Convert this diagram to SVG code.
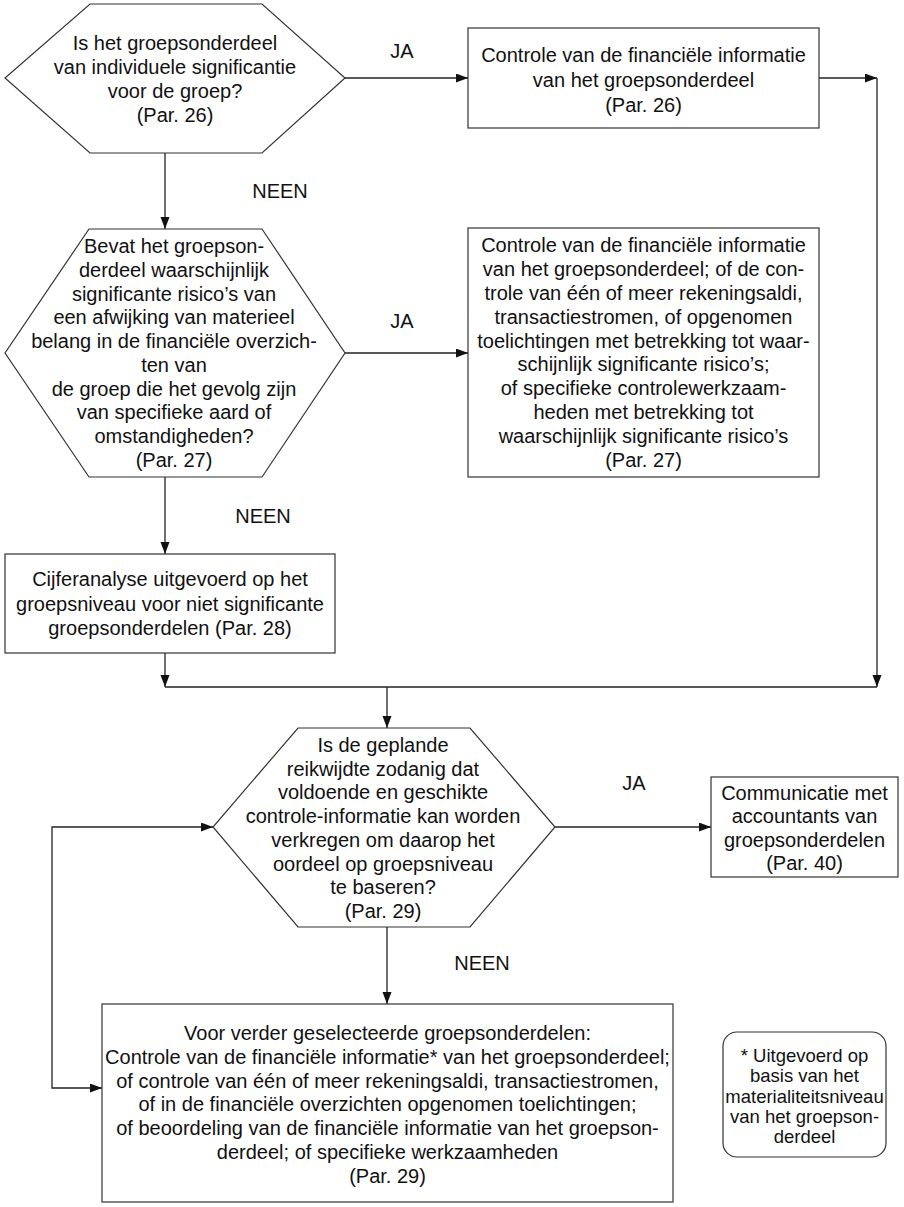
<svg xmlns="http://www.w3.org/2000/svg" width="904" height="1207" viewBox="0 0 904 1207">
<defs>
<style>
text{font-family:"Liberation Sans",Arial,sans-serif;font-size:20px;fill:#111;text-anchor:middle}
.shape{fill:#fff;stroke:#333;stroke-width:1.2}
.conn{fill:none;stroke:#222;stroke-width:1.3}
.note text{font-size:18.5px}
</style>
<marker id="ah" markerUnits="userSpaceOnUse" markerWidth="13" markerHeight="10" refX="12" refY="4.5" orient="auto-start-reverse">
<path d="M0,0 L12,4.5 L0,9 Z" fill="#111"/>
</marker>
</defs>
<rect width="904" height="1207" fill="#fff"/>

<g id="connectors">
<path class="conn" d="M345,78 H468" marker-end="url(#ah)"/>
<path class="conn" d="M819,78 H877" marker-end="url(#ah)"/>
<path class="conn" d="M877,78 V687" marker-end="url(#ah)"/>
<path class="conn" d="M165,153 V229" marker-end="url(#ah)"/>
<path class="conn" d="M345,353 H468" marker-end="url(#ah)"/>
<path class="conn" d="M165,477 V554" marker-end="url(#ah)"/>
<path class="conn" d="M165,653 V687" marker-end="url(#ah)"/>
<path class="conn" d="M165,687 H877"/>
<path class="conn" d="M387,687 V728" marker-end="url(#ah)"/>
<path class="conn" d="M555,827 H711" marker-end="url(#ah)"/>
<path class="conn" d="M387,927 V1004" marker-end="url(#ah)"/>
<path class="conn" d="M213,827 H52 V1088 H102" marker-start="url(#ah)" marker-end="url(#ah)"/>
<text x="402" y="58">JA</text>
<text x="280" y="198">NEEN</text>
<text x="402" y="328">JA</text>
<text x="263" y="523">NEEN</text>
<text x="634" y="790">JA</text>
<text x="482" y="970">NEEN</text>
</g>

<g id="q1">
<polygon class="shape" points="90,4 262,4 345,78 262,153 90,153 5,78"/>
<text x="175" y="50">Is het groepsonderdeel</text>
<text x="175" y="74">van individuele significantie</text>
<text x="175" y="98">voor de groep?</text>
<text x="175" y="122">(Par. 26)</text>
</g>

<g id="b1">
<rect class="shape" x="468" y="28" width="351" height="100"/>
<text x="643.5" y="62">Controle van de financiële informatie</text>
<text x="643.5" y="87">van het groepsonderdeel</text>
<text x="643.5" y="112">(Par. 26)</text>
</g>

<g id="q2">
<polygon class="shape" points="89,229 262,229 345,353 262,477 89,477 5,353"/>
<text x="174" y="253">Bevat het groepson-</text>
<text x="174" y="277">derdeel waarschijnlijk</text>
<text x="174" y="301">significante risico’s van</text>
<text x="174" y="324">een afwijking van materieel</text>
<text x="174" y="348">belang in de financiële overzich-</text>
<text x="174" y="372">ten van</text>
<text x="174" y="396">de groep die het gevolg zijn</text>
<text x="174" y="419">van specifieke aard of</text>
<text x="174" y="443">omstandigheden?</text>
<text x="174" y="467">(Par. 27)</text>
</g>

<g id="b2">
<rect class="shape" x="468" y="228" width="351" height="249"/>
<text x="643.5" y="252">Controle van de financiële informatie</text>
<text x="643.5" y="276">van het groepsonderdeel; of de con-</text>
<text x="643.5" y="300">trole van één of meer rekeningsaldi,</text>
<text x="643.5" y="324">transactiestromen, of opgenomen</text>
<text x="643.5" y="348">toelichtingen met betrekking tot waar-</text>
<text x="643.5" y="371">schijnlijk significante risico’s;</text>
<text x="643.5" y="395">of specifieke controlewerkzaam-</text>
<text x="643.5" y="419">heden met betrekking tot</text>
<text x="643.5" y="443">waarschijnlijk significante risico’s</text>
<text x="643.5" y="467">(Par. 27)</text>
</g>

<g id="b3">
<rect class="shape" x="5" y="554" width="330" height="99"/>
<text x="170" y="586">Cijferanalyse uitgevoerd op het</text>
<text x="170" y="611">groepsniveau voor niet significante</text>
<text x="170" y="635">groepsonderdelen (Par. 28)</text>
</g>

<g id="q3">
<polygon class="shape" points="298,728 470,728 555,827 470,927 298,927 213,827"/>
<text x="383" y="752">Is de geplande</text>
<text x="383" y="776">reikwijdte zodanig dat</text>
<text x="383" y="799">voldoende en geschikte</text>
<text x="383" y="823">controle-informatie kan worden</text>
<text x="383" y="847">verkregen om daarop het</text>
<text x="383" y="871">oordeel op groepsniveau</text>
<text x="383" y="894">te baseren?</text>
<text x="383" y="918">(Par. 29)</text>
</g>

<g id="b4">
<rect class="shape" x="711" y="777" width="187" height="100"/>
<text x="804.5" y="800">Communicatie met</text>
<text x="804.5" y="823">accountants van</text>
<text x="804.5" y="847">groepsonderdelen</text>
<text x="804.5" y="870">(Par. 40)</text>
</g>

<g id="b5">
<rect class="shape" x="102" y="1004" width="571" height="198"/>
<text x="387.5" y="1040">Voor verder geselecteerde groepsonderdelen:</text>
<text x="387.5" y="1064">Controle van de financiële informatie* van het groepsonderdeel;</text>
<text x="387.5" y="1088">of controle van één of meer rekeningsaldi, transactiestromen,</text>
<text x="387.5" y="1111">of in de financiële overzichten opgenomen toelichtingen;</text>
<text x="387.5" y="1135">of beoordeling van de financiële informatie van het groepson-</text>
<text x="387.5" y="1159">derdeel; of specifieke werkzaamheden</text>
<text x="387.5" y="1183">(Par. 29)</text>
</g>

<g id="note" class="note">
<rect class="shape" x="723" y="1032" width="163" height="125" rx="14" ry="14"/>
<text x="804.5" y="1062">* Uitgevoerd op</text>
<text x="804.5" y="1082">basis van het</text>
<text x="804.5" y="1103">materialiteitsniveau</text>
<text x="804.5" y="1123">van het groepson-</text>
<text x="804.5" y="1143">derdeel</text>
</g>
</svg>
